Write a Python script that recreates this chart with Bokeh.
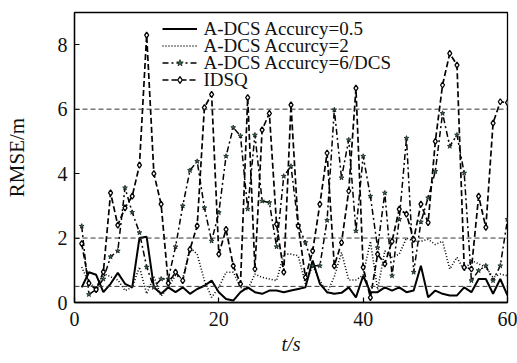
from bokeh.plotting import figure
from bokeh.models import Span, LabelSet, Legend, LegendItem, FixedTicker, ColumnDataSource
from bokeh.embed import file_html
from bokeh.resources import INLINE

t = list(range(1, 61))
adcs_05 = [0.47, 0.94, 0.86, 0.32, 0.58, 0.92, 0.58, 0.47, 2.0, 2.04,
           0.47, 0.27, 0.47, 0.32, 0.47, 0.27, 0.42, 0.52, 0.68, 0.32,
           0.11, 0.06, 0.32, 0.47, 0.32, 0.27, 0.37, 0.37, 0.32, 0.37,
           0.42, 0.47, 1.3, 0.58, 0.32, 0.27, 0.3, 0.47, 0.16, 0.83,
           0.32, 0.32, 0.47, 0.37, 0.47, 0.32, 0.37, 1.14, 0.16, 0.37,
           0.27, 0.22, 0.22, 0.47, 0.32, 0.73, 0.73, 0.27, 0.73, 0.22]
adcs_2 = [1.1, 0.6, 0.45, 0.9, 0.8, 0.7, 0.37, 0.47, 1.1, 0.27,
          0.8, 0.2, 0.47, 0.85, 0.73, 1.7, 1.5, 0.68, 0.16, 0.47,
          0.94, 0.94, 0.47, 0.4, 0.88, 0.78, 0.73, 0.68, 1.5, 1.5,
          1.45, 0.58, 1.14, 0.68, 0.3, 0.8, 1.55, 0.7, 0.7, 0.85,
          1.9, 0.4, 1.6, 1.4, 1.5, 2.0, 1.9, 1.9, 1.96, 1.8,
          1.9, 1.04, 1.4, 0.99, 1.3, 1.2, 1.09, 0.78, 0.88, 0.83]
adcs_6 = [2.37, 0.25, 0.4, 0.73, 1.42, 1.6, 3.56, 2.8, 2.17, 1.1,
          0.47, 0.73, 0.73, 1.73, 3.0, 4.1, 4.38, 2.94, 1.91, 2.79,
          4.54, 5.43, 5.17, 2.9, 5.2, 3.15, 3.1, 1.73, 3.92, 4.23,
          2.4, 1.86, 1.14, 1.14, 2.55, 5.98, 3.87, 5.05, 2.22, 4.54,
          3.3, 1.7, 3.4, 0.83, 2.58, 5.1, 0.94, 2.5, 3.25, 4.07,
          5.87, 4.85, 5.2, 4.02, 0.68, 0.99, 1.14, 0.68, 1.14, 2.58]
idsq = [1.83, 0.6, 0.4, 0.95, 3.4, 2.4, 2.94, 3.3, 4.26, 8.3,
        4.0, 3.05, 0.6, 0.94, 0.68, 1.65, 2.38, 6.05, 6.46, 1.5,
        2.27, 1.14, 0.58, 6.36, 1.04, 5.36, 5.87, 2.43, 0.94, 6.13,
        2.38, 0.78, 1.6, 3.05, 4.64, 1.14, 1.86, 3.46, 6.65, 1.09,
        0.15, 1.5, 1.2, 1.9, 2.9, 2.74, 1.96, 3.05, 2.48, 5.0,
        6.75, 7.73, 7.37, 1.09, 1.04, 3.3, 2.33, 5.57, 6.23, 6.2]
labels = ["A-DCS Accurcy=0.5", "A-DCS Accurcy=2", "A-DCS Accurcy=6/DCS", "IDSQ"]
ref_levels = [0.5, 2, 6]
x_ticks = [0, 20, 40, 60]
y_ticks = [0, 2, 4, 6, 8]

SERIF = "Liberation Serif"

p = figure(width=517, height=363, x_range=(0, 60), y_range=(0, 9),
           output_backend="svg", toolbar_location=None,
           min_border_left=74, min_border_right=10, min_border_top=12,
           min_border_bottom=61)
p.background_fill_color = "white"
p.border_fill_color = "white"
p.xgrid.visible = False
p.ygrid.visible = False
p.outline_line_color = "black"
p.outline_line_width = 1.3

p.axis.axis_line_color = "black"
p.axis.axis_line_width = 1.3
p.axis.major_tick_in = 5
p.axis.major_tick_out = 0
p.axis.minor_tick_in = 0
p.axis.minor_tick_out = 0
p.axis.major_tick_line_color = "black"
p.axis.major_tick_line_width = 1.2
p.axis.major_label_text_font = SERIF
p.axis.major_label_text_font_size = "20px"
p.axis.major_label_text_color = "#111111"
p.xaxis.ticker = FixedTicker(ticks=x_ticks)
p.yaxis.ticker = FixedTicker(ticks=y_ticks)
p.xaxis.major_label_standoff = 9
p.yaxis.major_label_standoff = 7
p.yaxis.axis_label = "RMSE/m"
p.yaxis.axis_label_text_font = SERIF
p.yaxis.axis_label_text_font_size = "21px"
p.yaxis.axis_label_text_font_style = "normal"
p.yaxis.axis_label_text_color = "#111111"
p.yaxis.axis_label_standoff = 26
p.xaxis.axis_label = "t/s"
p.xaxis.axis_label_text_font = SERIF
p.xaxis.axis_label_text_font_size = "20px"
p.xaxis.axis_label_text_font_style = "italic"
p.xaxis.axis_label_text_color = "#111111"
p.xaxis.axis_label_standoff = 4

for lv in ref_levels:
    p.add_layout(Span(location=lv, dimension="width", line_color="#333333",
                      line_width=1, line_dash="5 3"))

r1 = p.line(t, adcs_05, line_color="black", line_width=2)
r2 = p.line(t, adcs_2, line_color="black", line_width=1.6, line_dash="1 2")
r3 = p.line(t, adcs_6, line_color="black", line_width=1.5, line_dash="6 3 2 3")
r3m = p.scatter(t, adcs_6, marker="star", size=5, fill_color="#2a7a45",
                line_color="#1a1a1a", line_width=0.8)
r4 = p.line(t, idsq, line_color="black", line_width=1.7, line_dash="6 3")
r4m = p.scatter(t, idsq, marker="diamond", size=6, fill_color="white",
                line_color="black", line_width=1.3)

legend = Legend(items=[LegendItem(label=" ", renderers=[r1]),
                       LegendItem(label=" ", renderers=[r2]),
                       LegendItem(label=" ", renderers=[r3, r3m]),
                       LegendItem(label=" ", renderers=[r4, r4m])],
                location=(88, 214))
legend.background_fill_alpha = 0
legend.border_line_alpha = 0
legend.padding = 0
legend.margin = 0
legend.spacing = 0
legend.label_height = 17
legend.glyph_height = 17
legend.glyph_width = 35
legend.label_standoff = 0
legend.label_width = 1
legend.label_text_font_size = "1px"
p.add_layout(legend)

leg_y = [8.50, 7.97, 7.45, 6.92]
lsrc = ColumnDataSource(dict(x=[17.87] * 4, y=leg_y, text=labels))
p.add_layout(LabelSet(x="x", y="y", text="text", source=lsrc, text_align="left",
                      text_baseline="middle", text_font=SERIF, text_font_size="19px",
                      text_color="#111111"))

open("out.html", "w").write(file_html(p, INLINE))
